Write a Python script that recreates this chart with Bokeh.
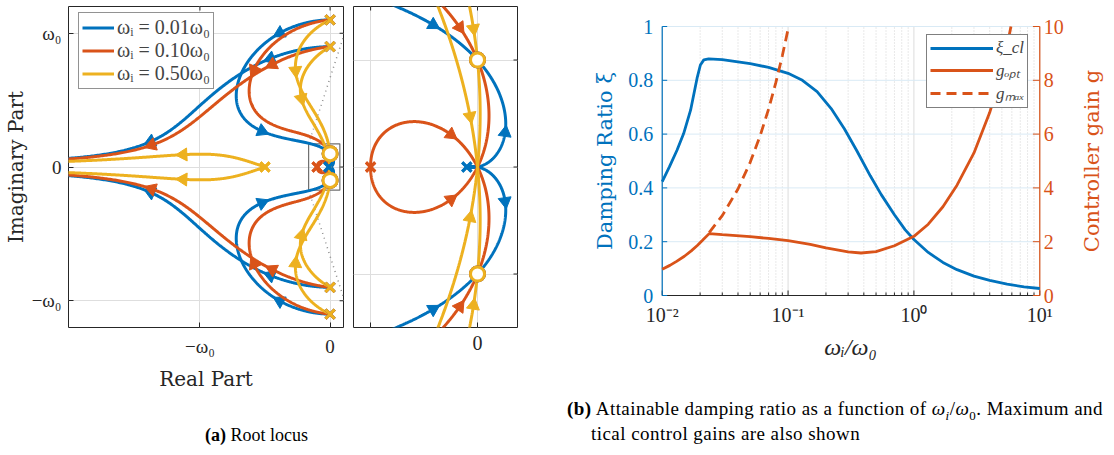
import itertools
import numpy as np
from bokeh.plotting import figure
from bokeh.layouts import row, column
from bokeh.models import (Range1d, FixedTicker, CustomJSTickFormatter,
                          Legend, LegendItem, Div)
from bokeh.core.properties import value
from bokeh.embed import file_html
from bokeh.resources import INLINE

# ---------------------------------------------------------------- data
# Root locus model (frequencies normalised by w0): rotating platform,
# decentralized IFF with high-pass filter K = g/(s + w_i)
ROTATION_SPEED = 0.1                    # Omega / w0
HPF_CUTOFFS = [0.01, 0.10, 0.50]        # w_i / w0
LOCUS_LABELS = ["ωᵢ = 0.01ω₀", "ωᵢ = 0.10ω₀", "ωᵢ = 0.50ω₀"]
GAINS = np.concatenate([[0.0], np.logspace(-4, 6, 7000)])

# Attainable damping ratio vs w_i / w0
wi_xi = [0.0100, 0.0114, 0.0131, 0.0148, 0.0168, 0.0189, 0.0201, 0.0214, 0.0234,
         0.030, 0.050, 0.070, 0.100, 0.130, 0.170, 0.220, 0.280, 0.350, 0.450,
         0.550, 0.700, 0.850, 1.00, 1.30, 1.70, 2.20, 3.00, 4.00, 5.50, 7.50, 10.0]
xi_cl = [0.423, 0.478, 0.540, 0.602, 0.689, 0.807, 0.857, 0.876, 0.880,
         0.877, 0.862, 0.848, 0.826, 0.800, 0.758, 0.695, 0.620, 0.540, 0.445,
         0.375, 0.300, 0.245, 0.208, 0.160, 0.123, 0.096, 0.072, 0.056, 0.042, 0.032, 0.026]

wi_gopt = [0.0100, 0.0115, 0.0130, 0.0150, 0.0170, 0.0190, 0.0210, 0.0236,
           0.030, 0.050, 0.070, 0.100, 0.150, 0.200, 0.300, 0.380, 0.500, 0.700,
           1.00, 1.30, 1.70, 2.20, 3.00, 4.00, 5.00, 5.90]
g_opt = [0.98, 1.12, 1.27, 1.46, 1.66, 1.86, 2.06, 2.30,
         2.26, 2.19, 2.12, 2.04, 1.90, 1.77, 1.62, 1.58, 1.63, 1.85,
         2.20, 2.65, 3.30, 4.10, 5.30, 6.80, 8.30, 10.0]

wi_gmax = [0.0236, 0.030, 0.040, 0.050, 0.060, 0.070, 0.080, 0.090, 0.100]
g_max = [2.34, 2.97, 3.96, 4.95, 5.94, 6.93, 7.92, 8.91, 9.90]

XI_TICKS = [0, 0.2, 0.4, 0.6, 0.8, 1.0]
XI_LABELS = ["0", "0.2", "0.4", "0.6", "0.8", "1"]
G_TICKS = [0, 2, 4, 6, 8, 10]
G_LABELS = ["0", "2", "4", "6", "8", "10"]
DECADES = [0.01, 0.1, 1, 10]
DECADE_LABELS = ["10⁻²", "10⁻¹", "10⁰", "10¹"]

# ---------------------------------------------------------------- styles
BLUE, RED, YEL = "#0072BD", "#D95319", "#EDB120"
COLORS = [BLUE, RED, YEL]
INK = "#262626"
SERIF = "Liberation Serif"
LFONT = "DejaVu Serif"
FIG_H = 395
FRAME_TOP, FRAME_BOTTOM = 6, 327      # all three frames share this band
PX_C = 269.0                          # px per unit of damping ratio in panel (b)
PX_DEC = 126.3                        # px per decade in panel (b)


def track_roots(wi, sig):
    W = ROTATION_SPEED
    perms = [list(p) for p in itertools.permutations(range(3))]
    res = np.empty((len(GAINS), 3), dtype=complex)
    prev = None
    for k, g in enumerate(GAINS):
        coeffs = [1.0,
                  wi + 2j * sig * W + g,
                  (1 - W ** 2) + 2j * sig * W * wi + 2j * sig * W * g,
                  wi * (1 - W ** 2) - g * W ** 2]
        r = np.roots(coeffs)
        if prev is not None:
            costs = [np.abs(r[p] - prev).sum() for p in perms]
            r = r[perms[int(np.argmin(costs))]]
        res[k] = r
        prev = r
    return res


def thin(z, xr, yr, sx, sy):
    mx = (xr[1] - xr[0]) * 0.1
    my = (yr[1] - yr[0]) * 0.1
    xs, ys = [], []
    gap = True
    lx = ly = 0.0
    for x, y in zip(z.real, z.imag):
        inside = (xr[0] - mx < x < xr[1] + mx) and (yr[0] - my < y < yr[1] + my)
        if not inside:
            if not gap:
                xs.append(np.nan); ys.append(np.nan); gap = True
            continue
        if gap or abs((x - lx) * sx) + abs((y - ly) * sy) >= 0.7:
            xs.append(x); ys.append(y); lx, ly = x, y; gap = False
    return xs, ys


def arrows(z, xr, yr, sx, sy, step):
    x, y = z.real, z.imag
    inside = (x >= xr[0]) & (x <= xr[1]) & (y >= yr[0]) & (y <= yr[1])
    idx = np.where(inside)[0]
    out = []
    if len(idx) < 3:
        return out
    runs = np.split(idx, np.where(np.diff(idx) > 1)[0] + 1)
    for run in runs:
        if len(run) < 5:
            continue
        px, py = x[run] * sx, y[run] * sy
        s = np.concatenate([[0.0], np.cumsum(np.hypot(np.diff(px), np.diff(py)))])
        L = s[-1]
        if L < 45:
            continue
        n = max(1, int(L // step))
        for k in range(n):
            i = int(np.searchsorted(s, (k + 0.42) / n * L))
            i = min(max(i, 1), len(run) - 2)
            ang = np.arctan2(py[i + 1] - py[i - 1], px[i + 1] - px[i - 1])
            out.append((x[run[i]], y[run[i]], ang - np.pi / 2))
    return out


LOCI = [[track_roots(wi, s) for s in (1, -1)] for wi in HPF_CUTOFFS]
ZEROS = np.array([1j * ROTATION_SPEED, -1j * ROTATION_SPEED])

omega_fmt = CustomJSTickFormatter(code="return tick == 0 ? '0' : (tick < 0 ? '\u2212\u03c9\u2080' : '\u03c9\u2080');")


def style_axis(ax, color=INK, size="19px", standoff=8):
    ax.major_label_text_font = SERIF
    ax.major_label_text_font_size = size
    ax.major_label_text_color = color
    ax.major_label_standoff = standoff
    ax.major_tick_in = 5
    ax.major_tick_out = 0
    ax.minor_tick_in = 0
    ax.minor_tick_out = 0
    ax.major_tick_line_color = color
    ax.axis_line_color = None
    ax.axis_label_text_font = LFONT
    ax.axis_label_text_font_style = "normal"
    ax.axis_label_text_color = color


def box_ticks(p, xr, yr, xt, yt, sx, sy, length=4):
    """small inward ticks on the top and right edges of a boxed frame"""
    p.segment(x0=xt, y0=yr[1], x1=xt, y1=yr[1] - length / sy, line_color=INK, line_width=1)
    p.segment(x0=xr[1], y0=yt, x1=xr[1] - length / sx, y1=yt, line_color=INK, line_width=1)


def locus_panel(p, xr, yr, sx, sy, step):
    renderers = []
    for ci, pair in enumerate(LOCI):
        col = COLORS[ci]
        first = None
        heads = []
        for roots in pair:
            for j in range(3):
                z = roots[:, j]
                xs, ys = thin(z, xr, yr, sx, sy)
                r = p.line(xs, ys, line_color=col, line_width=3)
                if first is None:
                    first = r
                heads += arrows(z, xr, yr, sx, sy, step)
        if heads:
            hx, hy, ha = zip(*heads)
            p.scatter(list(hx), list(hy), angle=list(ha), marker="triangle", size=13,
                      fill_color=col, line_color=col, line_width=1)
        renderers.append(first)
    for ci, pair in enumerate(LOCI):
        poles = np.concatenate([pair[0][0], pair[1][0]])
        p.scatter(poles.real, poles.imag, marker="x", size=13, line_color=COLORS[ci], line_width=3)
    for ci in range(len(LOCI)):
        p.scatter(ZEROS.real, ZEROS.imag, marker="circle", size=14, line_color=COLORS[ci],
                  fill_color="white", line_width=3)
    return renderers


# ---------------------------------------------------------------- (a) main root locus
xA, yA = (-2.01, 0.103), (-1.2, 1.2)
SXA = 281 / (xA[1] - xA[0])
SYA = 321 / (yA[1] - yA[0])
pA = figure(width=348, height=FIG_H, x_range=Range1d(*xA), y_range=Range1d(*yA),
            output_backend="svg", toolbar_location=None,
            min_border_left=62, min_border_right=5, min_border_top=FRAME_TOP,
            min_border_bottom=FIG_H - FRAME_BOTTOM)
pA.outline_line_color = INK
pA.xaxis.ticker = FixedTicker(ticks=[-1, 0])
pA.yaxis.ticker = FixedTicker(ticks=[-1, 0, 1])
pA.xaxis.formatter = omega_fmt
pA.yaxis.formatter = omega_fmt
style_axis(pA.xaxis[0], standoff=8)
style_axis(pA.yaxis[0], standoff=7)
pA.xaxis.axis_label = "Real Part"
pA.xaxis.axis_label_text_font_size = "20px"
pA.xaxis.axis_label_standoff = 7
pA.yaxis.axis_label = "Imaginary Part"
pA.yaxis.axis_label_text_font_size = "20px"
pA.yaxis.axis_label_standoff = 1
pA.grid.grid_line_color = "#dedede"
box_ticks(pA, xA, yA, [-1, 0], [-1, 0, 1], SXA, SYA)

# zoom box + connectors to the inset
ZOOM_BOX = (-0.165, 0.075, -0.173, 0.173)
pA.quad(left=ZOOM_BOX[0], right=ZOOM_BOX[1], bottom=ZOOM_BOX[2], top=ZOOM_BOX[3],
        fill_color=None, line_color="#707070", line_width=1.2)
pA.line([ZOOM_BOX[0], 0.18], [ZOOM_BOX[3], 1.205], line_color="#8c8c8c", line_width=1.5, line_dash="1 4")
pA.line([ZOOM_BOX[0], 0.18], [ZOOM_BOX[2], -1.205], line_color="#8c8c8c", line_width=1.5, line_dash="1 4")

rendA = locus_panel(pA, xA, yA, SXA, SYA, 120)
legA = Legend(items=[LegendItem(label=l, renderers=[r]) for l, r in zip(LOCUS_LABELS, rendA)],
              location=(10, FRAME_BOTTOM - 89), label_text_font=SERIF, label_text_font_size="20px",
              glyph_width=32, glyph_height=23, label_height=23, spacing=0, padding=3,
              label_standoff=3, border_line_color=INK, border_line_width=1,
              background_fill_alpha=1, margin=0)
pA.add_layout(legA)

# ---------------------------------------------------------------- inset (zoom near origin)
xB, yB = (-0.116, 0.0374), (-0.15, 0.15)
SXB = 164 / (xB[1] - xB[0])
SYB = 321 / (yB[1] - yB[0])
pB = figure(width=172, height=FIG_H, x_range=Range1d(*xB), y_range=Range1d(*yB),
            output_backend="svg", toolbar_location=None,
            min_border_left=5, min_border_right=3, min_border_top=FRAME_TOP,
            min_border_bottom=FIG_H - FRAME_BOTTOM)
pB.outline_line_color = INK
pB.xaxis.ticker = FixedTicker(ticks=[-0.1, 0])
pB.xaxis.formatter = CustomJSTickFormatter(code="return tick == 0 ? '0' : '';")
style_axis(pB.xaxis[0], standoff=8)
pB.xaxis.major_label_text_font_size = "20px"
pB.yaxis.ticker = FixedTicker(ticks=[-0.1, 0, 0.1])
pB.yaxis.visible = False
pB.grid.grid_line_color = "#dedede"
box_ticks(pB, xB, yB, [-0.1, 0], [-0.1, 0, 0.1], SXB, SYB)
locus_panel(pB, xB, yB, SXB, SYB, 150)

# ---------------------------------------------------------------- (b) damping vs w_i
# The frame spans the shared vertical band and the whole canvas width; the
# data axes occupy x 662..1039 px and y 26..295 px of it and are drawn here.
C_LEFT, C_RIGHT = 586, 1114           # frame extent (px, page coordinates)
AX_LEFT, AX_RIGHT = 662, 1039         # where 1e-2 and 1e1 sit
y_lo = -(FRAME_BOTTOM - 295) / PX_C
y_hi = 1 + (26 - FRAME_TOP) / PX_C
x_lo = 10 ** (-2 - (AX_LEFT - C_LEFT) / PX_DEC)
x_hi = 10 ** (1 + (C_RIGHT - AX_RIGHT) / PX_DEC)


def xpx(px):
    """log-axis data x for a page x pixel"""
    return 10 ** ((px - AX_LEFT) / PX_DEC - 2)


pC = figure(width=594, height=FIG_H, x_axis_type="log", x_range=Range1d(x_lo, x_hi),
            y_range=Range1d(y_lo, y_hi), output_backend="svg", toolbar_location=None,
            min_border_left=C_LEFT - 520, min_border_right=0, min_border_top=FRAME_TOP,
            min_border_bottom=FIG_H - FRAME_BOTTOM)
pC.outline_line_color = None
pC.extra_y_ranges = {"g": Range1d(10 * y_lo, 10 * y_hi)}
pC.yaxis.visible = False
minors = [m * d for d in DECADES[:-1] for m in range(2, 10)]

pC.ygrid.visible = False
pC.xgrid.visible = False
pC.segment(x0=minors, y0=0, x1=minors, y1=1, line_color="#d2d2d2", line_width=1, line_dash="1 2")
pC.segment(x0=DECADES, y0=0, x1=DECADES, y1=1, line_color="#dcdcdc", line_width=1)
pC.segment(x0=0.01, y0=XI_TICKS, x1=10, y1=XI_TICKS, line_color="#d9eaf5", line_width=1)

# bottom axis line and inward ticks at y = 0
pC.segment(x0=0.01, y0=0, x1=10, y1=0, line_color=INK, line_width=1.2)
pC.segment(x0=DECADES, y0=0, x1=DECADES, y1=5 / PX_C, line_color=INK, line_width=1)
pC.segment(x0=minors, y0=0, x1=minors, y1=3 / PX_C, line_color=INK, line_width=1)

# left (damping) axis
pC.segment(x0=0.01, y0=0, x1=0.01, y1=1, line_color=BLUE, line_width=1.2)
pC.segment(x0=0.01, y0=XI_TICKS, x1=xpx(AX_LEFT + 5), y1=XI_TICKS, line_color=BLUE, line_width=1)
pC.text(x=[xpx(AX_LEFT - 9)] * len(XI_TICKS), y=XI_TICKS, text=XI_LABELS,
        text_align="right", text_baseline="middle", text_font=value(SERIF),
        text_font_size="20px", text_color=BLUE)
pC.text(x=[xpx(605)], y=[0.5], text=["Damping Ratio ξ"], angle=np.pi / 2,
        text_align="center", text_baseline="middle", text_font=value(LFONT),
        text_font_size="21px", text_color=BLUE)

# right (gain) axis
pC.segment(x0=10, y0=0, x1=10, y1=10, line_color=RED, line_width=1.2, y_range_name="g")
pC.segment(x0=10, y0=G_TICKS, x1=xpx(AX_RIGHT - 5), y1=G_TICKS, line_color=RED, line_width=1,
           y_range_name="g")
pC.text(x=[xpx(AX_RIGHT + 6)] * len(G_TICKS), y=G_TICKS, text=G_LABELS, y_range_name="g",
        text_align="left", text_baseline="middle", text_font=value(SERIF),
        text_font_size="20px", text_color=RED)
pC.text(x=[xpx(1093)], y=[0.5], text=["Controller gain g"], angle=np.pi / 2,
        text_align="center", text_baseline="middle", text_font=value(LFONT),
        text_font_size="21px", text_color=RED)

# bottom tick labels + label from Bokeh's own axis, pulled up to y = 0
pC.xaxis.ticker = FixedTicker(ticks=DECADES)
pC.xaxis.formatter = CustomJSTickFormatter(
    args=dict(vals=DECADES, labs=DECADE_LABELS),
    code="for (let i = 0; i < vals.length; i++) { if (Math.abs(Math.log10(tick) - Math.log10(vals[i])) < 1e-6) return labs[i]; } return '';")
style_axis(pC.xaxis[0], standoff=-(FRAME_BOTTOM - 295) + 8, size="20px")
pC.xaxis.major_tick_in = 0
pC.xaxis.major_tick_line_color = None
pC.xaxis.axis_label = "ωᵢ/ω₀"
pC.xaxis.axis_label_text_font = SERIF
pC.xaxis.axis_label_text_font_style = "italic"
pC.xaxis.axis_label_text_font_size = "24px"
pC.xaxis.axis_label_standoff = 5

r_xi = pC.line(wi_xi, xi_cl, line_color=BLUE, line_width=2.8)
r_go = pC.line(wi_gopt, g_opt, line_color=RED, line_width=2.8, y_range_name="g")
r_gm = pC.line(wi_gmax, g_max, line_color=RED, line_width=2.8, y_range_name="g", line_dash="10 6")
legC = Legend(items=[LegendItem(label="ξ_cl", renderers=[r_xi]),
                     LegendItem(label="gₒₚₜ", renderers=[r_go]),
                     LegendItem(label="gₘₐₓ", renderers=[r_gm])],
              location=(926 - C_LEFT, FRAME_BOTTOM - 108), label_text_font=SERIF,
              label_text_font_style="italic",
              label_text_font_size="17px", glyph_width=63, glyph_height=20, label_height=20,
              spacing=0, padding=3, label_standoff=3, border_line_color="black",
              border_line_width=1, background_fill_alpha=1, margin=0)
pC.add_layout(legC)

# ---------------------------------------------------------------- captions
CAP_TOP = FIG_H
cap_html = f"""
<div style="position:relative;width:1114px;height:57px;font-family:'Liberation Serif',serif;line-height:19px;color:#000;">
  <span style="position:absolute;left:205px;top:{442 - 16 - CAP_TOP}px;white-space:nowrap;font-size:18px;"><b>(a)</b> Root locus</span>
  <span style="position:absolute;left:567px;top:{415 - 16 - CAP_TOP}px;white-space:nowrap;font-size:19px;letter-spacing:0.45px;"><b>(b)</b> Attainable damping ratio as a function of <i>ω</i><sub style="font-size:13px;line-height:0"><i>i</i></sub>/<i>ω</i><sub style="font-size:13px;line-height:0">0</sub>. Maximum and</span>
  <span style="position:absolute;left:591px;top:{440 - 16 - CAP_TOP}px;white-space:nowrap;font-size:19px;letter-spacing:0.45px;">tical control gains are also shown</span>
</div>"""
captions = Div(text=cap_html, width=1114, height=57, margin=0)

layout = column(row(pA, pB, pC, spacing=0), captions, spacing=0)
with open("out.html", "w", encoding="utf-8") as f:
    f.write(file_html(layout, INLINE))
